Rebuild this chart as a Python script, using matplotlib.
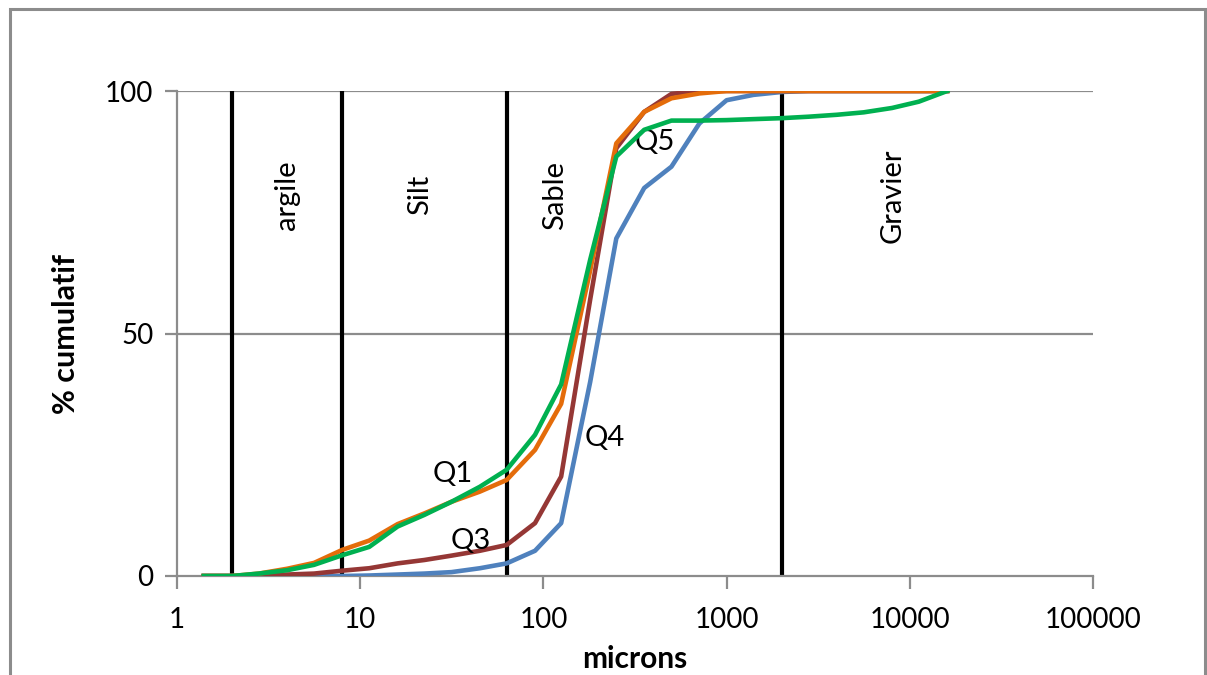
import matplotlib.pyplot as plt
from matplotlib.patches import Rectangle

plt.rcParams['font.family'] = ['Lato', 'DejaVu Sans']

# sieve sizes (microns)
sizes = [1.4, 2, 2.8, 4, 5.6, 8, 11.2, 16, 22.4, 31.5, 45, 63, 90, 125, 180,
         250, 355, 500, 710, 1000, 1400, 2000, 2800, 4000, 5600, 8000, 11200, 16000]

# cumulative % per sample
q1_orange = [0, 0, 0.5, 1.5, 2.7, 5.4, 7.3, 10.7, 12.9, 15.3, 17.4, 19.8, 26, 35.5, 63,
             89.2, 95.7, 98.5, 99.5, 100, 100, 100, 100, 100, 100, 100, 100, 100]
q5_green = [0, 0, 0.5, 1.2, 2.3, 4.3, 6.0, 10.2, 12.6, 15.3, 18.4, 21.9, 29.1, 39.5, 65.2,
            86.5, 92, 93.9, 93.9, 94, 94.2, 94.4, 94.7, 95.1, 95.6, 96.5, 97.8, 100]
q3_brown = [0, 0, 0.1, 0.3, 0.5, 1.1, 1.6, 2.6, 3.3, 4.2, 5.2, 6.4, 10.9, 20.5, 57,
            88.2, 95.7, 99.4, 100, 100, 100, 100, 100, 100, 100, 100, 100, 100]
q4_blue = [0, 0, 0, 0, 0, 0, 0.1, 0.3, 0.5, 0.8, 1.6, 2.6, 5.2, 10.9, 40,
           69.6, 80, 84.4, 93.3, 98.1, 99.2, 99.8, 100, 100, 100, 100, 100, 100]

# class limits
limits = [2, 8, 63, 2000]
classes = ['argile', 'Silt', 'Sable', 'Gravier']
class_x = [3.98, 21.2, 115.7, 8090]

curve_labels = ['Q1', 'Q3', 'Q4', 'Q5']
curve_label_pos = [(32, 21), (40, 7.3), (215, 28.5), (405, 89.5)]

fig = plt.figure(figsize=(12.07, 6.75), dpi=100)
ax = fig.add_axes([177/1207, 1 - 576/675, (1093 - 177)/1207, (576 - 91)/675])

fig.patches.append(Rectangle((10/1207, -0.1), (1205 - 10)/1207, 1 - 9/675 + 0.1,
                             transform=fig.transFigure, fill=False,
                             edgecolor='#8c8c8c', linewidth=2.2))

for y in [50, 100]:
    ax.axhline(y, color='#8c8c8c', lw=1.6, zorder=1)

for xl in limits:
    ax.plot([xl, xl], [0, 100], color='black', lw=3, zorder=2)

ax.plot(sizes, q4_blue, color='#4f81bd', lw=3.3, zorder=3)
ax.plot(sizes, q3_brown, color='#953735', lw=3.3, zorder=3)
ax.plot(sizes, q1_orange, color='#e46c0a', lw=3.3, zorder=3)
ax.plot(sizes, q5_green, color='#00b050', lw=3.3, zorder=4)

for name, xc in zip(classes, class_x):
    ax.text(xc, 78.5, name, rotation=90, ha='center', va='center', fontsize=21)

for lab, (xp, yp) in zip(curve_labels, curve_label_pos):
    ax.text(xp, yp, lab, ha='center', va='center', fontsize=21)

ax.set_xscale('log')
ax.set_xlim(1, 100000)
ax.set_ylim(0, 100)
ax.set_xticks([1, 10, 100, 1000, 10000, 100000])
ax.set_xticklabels(['1', '10', '100', '1000', '10000', '100000'])
ax.xaxis.set_minor_locator(plt.NullLocator())
ax.set_yticks([0, 50, 100])
ax.tick_params(axis='both', labelsize=20, color='#8c8c8c', width=1.6, length=9,
               direction='out')
ax.tick_params(axis='x', pad=13)
ax.tick_params(axis='y', pad=8)

for s in ['top', 'right']:
    ax.spines[s].set_visible(False)
for s in ['left', 'bottom']:
    ax.spines[s].set_color('#8c8c8c')
    ax.spines[s].set_linewidth(1.6)

ax.set_xlabel('microns', fontsize=21.5, fontweight='bold', labelpad=9)
ax.set_ylabel('% cumulatif', fontsize=22, fontweight='bold', labelpad=18)

fig.savefig('out.png', dpi=100)
